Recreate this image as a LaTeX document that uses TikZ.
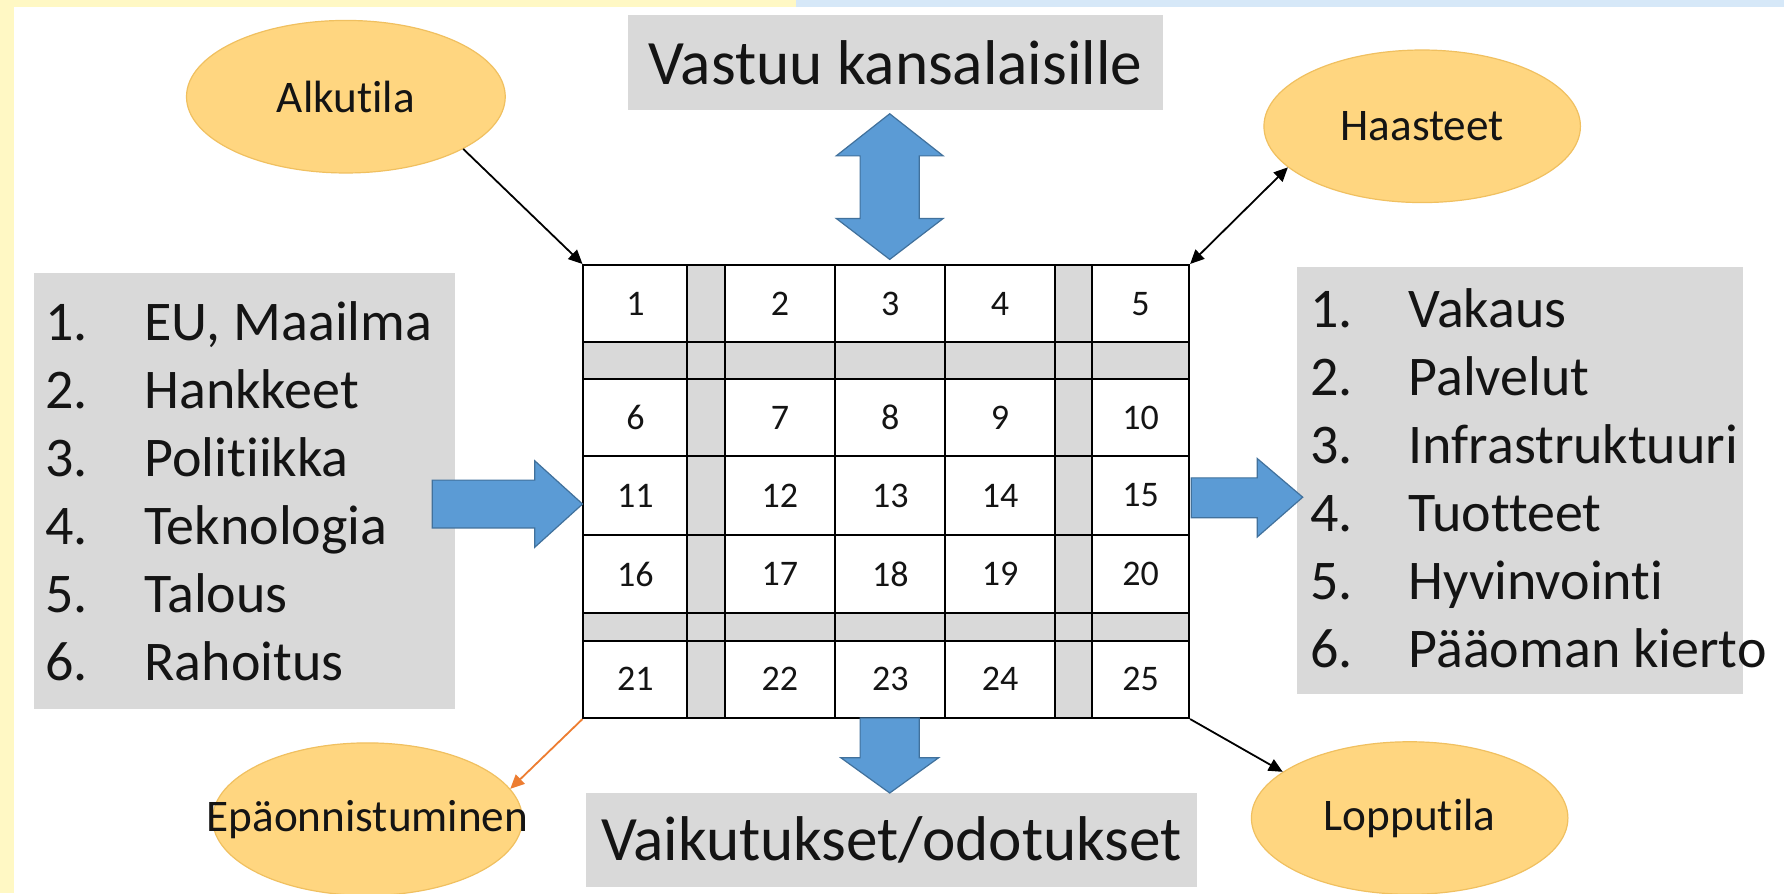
\documentclass[tikz,border=0pt]{standalone}
\usepackage{fontspec}
\setmainfont{Carlito}[Ligatures=NoCommon]
\usetikzlibrary{arrows.meta,shapes.geometric}
\definecolor{boxgray}{RGB}{217,217,217}
\definecolor{blobfill}{RGB}{255,214,128}
\definecolor{blobline}{RGB}{240,192,96}
\definecolor{blockblue}{RGB}{91,155,213}
\definecolor{blockline}{RGB}{65,113,156}
\definecolor{failorange}{RGB}{237,125,49}
\definecolor{bgyellow}{RGB}{255,248,196}
\definecolor{bgblue}{RGB}{214,232,248}
\definecolor{ink}{RGB}{20,20,20}
\tikzset{
  blob/.style={ellipse, fill=blobfill, draw=blobline, line width=0.3pt, inner sep=0pt, text=ink, font=\fontsize{11.3}{13}\selectfont},
  blobtext/.style={text=ink, font=\fontsize{11.3}{13}\selectfont},
  titlebox/.style={fill=boxgray, inner sep=0pt, text=ink, font=\fontsize{15.8}{18}\selectfont},
  listbox/.style={fill=boxgray, inner sep=0pt},
  listtext/.style={inner sep=0pt, text=ink, font=\fontsize{14}{17}\selectfont},
  cellnum/.style={text=ink, font=\fontsize{9}{10}\selectfont},
  pointer/.style={line width=0.45pt, -{Triangle[length=3.5pt,width=3.2pt]}},
  block/.style={fill=blockblue, draw=blockline, line width=0.3pt},
}
\begin{document}
\begin{tikzpicture}[x=0.01cm, y=-0.01cm]
\useasboundingbox (0,0) rectangle (1568,785);
\fill[bgyellow] (0,0) rectangle (1568,785);
\fill[bgblue] (700,0) rectangle (1568,6);
\fill[white] (12,6) rectangle (1568,785);

% grid
\fill[boxgray] (604,233) rectangle (637,631);
\fill[boxgray] (927,233) rectangle (960,631);
\fill[boxgray] (513,301) rectangle (1045,333);
\fill[boxgray] (513,539) rectangle (1045,563);
\foreach \x in {604,637,734,831,927,960}
  \draw[line width=0.5pt] (\x,233) -- (\x,631);
\foreach \y in {301,333,401,470,539,563}
  \draw[line width=0.5pt] (513,\y) -- (1045,\y);
\node[draw, line width=0.5pt, minimum width=5.32cm, minimum height=3.98cm, inner sep=0pt] (grid) at (779,432) {};
\foreach \yy [count=\r from 0] in {267,367,435.5,504.5,597}
  \foreach \xx [count=\c] in {558.5,685.5,782.5,879,1002.5}{
    \pgfmathtruncatemacro\n{5*\r+\c}
    \node[cellnum] (c\n) at (\xx,\yy) {\n};
  }

% boxes
\node[titlebox, minimum width=4.7cm, minimum height=0.84cm] (resp) at (787,55) {Vastuu kansalaisille};
\node[titlebox, minimum width=5.37cm, minimum height=0.83cm] (effects) at (783.5,738.5) {Vaikutukset/odotukset};
\node[listbox, minimum width=3.7cm, minimum height=3.83cm] (inputs) at (215,431.5) {};
\node[listtext, anchor=west] (inlist) at ([xshift=0.1cm, yshift=-0.05cm]inputs.west) {\begin{tabular}{@{}p{0.87cm}@{}l@{}}
1. & EU, Maailma\\ 2. & Hankkeet\\ 3. & Politiikka\\ 4. & Teknologia\\ 5. & Talous\\ 6. & Rahoitus
\end{tabular}};
\node[listbox, minimum width=3.92cm, minimum height=3.75cm] (outputs) at (1336,422.5) {};
\node[listtext, anchor=west] (outlist) at ([xshift=0.12cm, yshift=-0.03cm]outputs.west) {\begin{tabular}{@{}p{0.86cm}@{}l@{}}
1. & Vakaus\\ 2. & Palvelut\\ 3. & Infrastruktuuri\\ 4. & Tuotteet\\ 5. & Hyvinvointi\\ 6. & Pääoman kierto
\end{tabular}};

% ellipses
\node[blob, minimum width=2.8cm, minimum height=1.34cm] (alku) at (304,85) {Alkutila};
\node[blob, minimum width=2.78cm, minimum height=1.34cm] (haaste) at (1250,111) {Haasteet};
\node[blob, minimum width=2.78cm, minimum height=1.34cm] (loppu) at (1239,719) {Lopputila};
\node[blob, minimum width=2.72cm, minimum height=1.34cm, label={[blobtext]center:Epäonnistuminen}] (epa) at (323,720) {};

% block arrows
\filldraw[block] (782,100) -- (829,137) -- (808,137) -- (808,192) -- (829,192) -- (782,228)
  -- (735,192) -- (756,192) -- (756,137) -- (735,137) -- cycle;
\filldraw[block] (380,422) -- (470,422) -- (470,405) -- (512,443) -- (470,481) -- (470,464) -- (380,464) -- cycle;
\filldraw[block] (1047,420) -- (1105,420) -- (1105,403) -- (1145,437) -- (1105,472) -- (1105,455) -- (1047,455) -- cycle;
\filldraw[block] (756,631) -- (808,631) -- (808,666) -- (825,666) -- (782,697) -- (739,666) -- (756,666) -- cycle;

% connectors
\draw[pointer] (alku.-24) -- (grid.north west);
\draw[pointer, {Triangle[length=3.5pt,width=3.2pt]}-{Triangle[length=3.5pt,width=3.2pt]}] (grid.north east) -- (haaste.197);
\draw[pointer] (grid.south east) -- (loppu.160);
\draw[pointer, draw=failorange] (grid.south west) -- (epa.12);
\end{tikzpicture}
\end{document}
